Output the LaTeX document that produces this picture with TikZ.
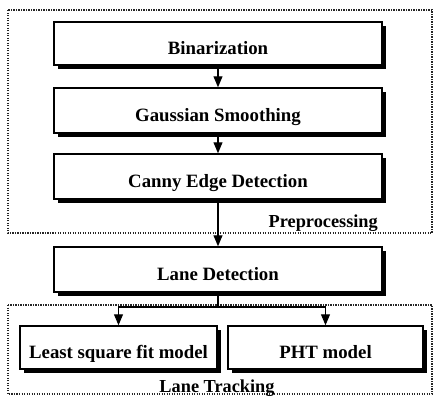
\documentclass[tikz,border=0pt]{standalone}
\usepackage{fontspec}
\setmainfont{Liberation Serif}
\usetikzlibrary{arrows.meta,shadows}
\begin{document}
\begin{tikzpicture}[x=1pt,y=-1pt,
  stagebox/.style={draw=black, line width=1.5pt, fill=white, inner sep=0pt,
    text height=22pt, text depth=0pt,
    font=\fontsize{18.8}{22}\selectfont\bfseries,
    drop shadow={shadow xshift=3.5pt, shadow yshift=-3.5pt, fill=black, opacity=1}},
  groupframe/.style={draw=black!85, line width=1.3pt, dash pattern=on 1.3pt off 1.2pt},
  grouplabel/.style={inner sep=0pt, font=\fontsize{18.3}{22}\selectfont\bfseries},
  flow/.style={line width=1.1pt, -{Triangle[width=9pt,length=11pt]}}]
\useasboundingbox (0,0) rectangle (435,397);

% group frames
\draw[groupframe] (8,10) rectangle (432,233);
\draw[groupframe] (8,305) rectangle (432,394);

% processing stages
\node[stagebox, minimum width=328pt, minimum height=43pt] (bin) at (218,43.5) {Binarization};
\node[stagebox, minimum width=328pt, minimum height=45pt] (gau) at (218,110.5) {Gaussian Smoothing};
\node[stagebox, minimum width=328pt, minimum height=45pt] (can) at (218,176.5) {Canny Edge Detection};
\node[stagebox, minimum width=328pt, minimum height=45pt] (lane) at (218,269.5) {Lane Detection};
\node[stagebox, minimum width=197pt, minimum height=43pt] (lsq) at (118.5,347.5) {Least square fit model};
\node[stagebox, minimum width=195pt, minimum height=43pt] (pht) at (325.5,347.5) {PHT model};

% group labels
\node[grouplabel, anchor=base east] (prelab) at (378,227) {Preprocessing};
\node[grouplabel, anchor=base] (tracklab) at (217,392) {Lane Tracking};

% connectors
\coordinate (split) at (218,307);
\draw[flow] (bin.south) -- (gau.north);
\draw[flow] (gau.south) -- (can.north);
\draw[flow] (can.south) -- (lane.north);
\draw[line width=1.1pt] (lane.south) -- (split);
\draw[flow] (split) -| (lsq.north);
\draw[flow] (split) -| (pht.north);
\end{tikzpicture}
\end{document}
